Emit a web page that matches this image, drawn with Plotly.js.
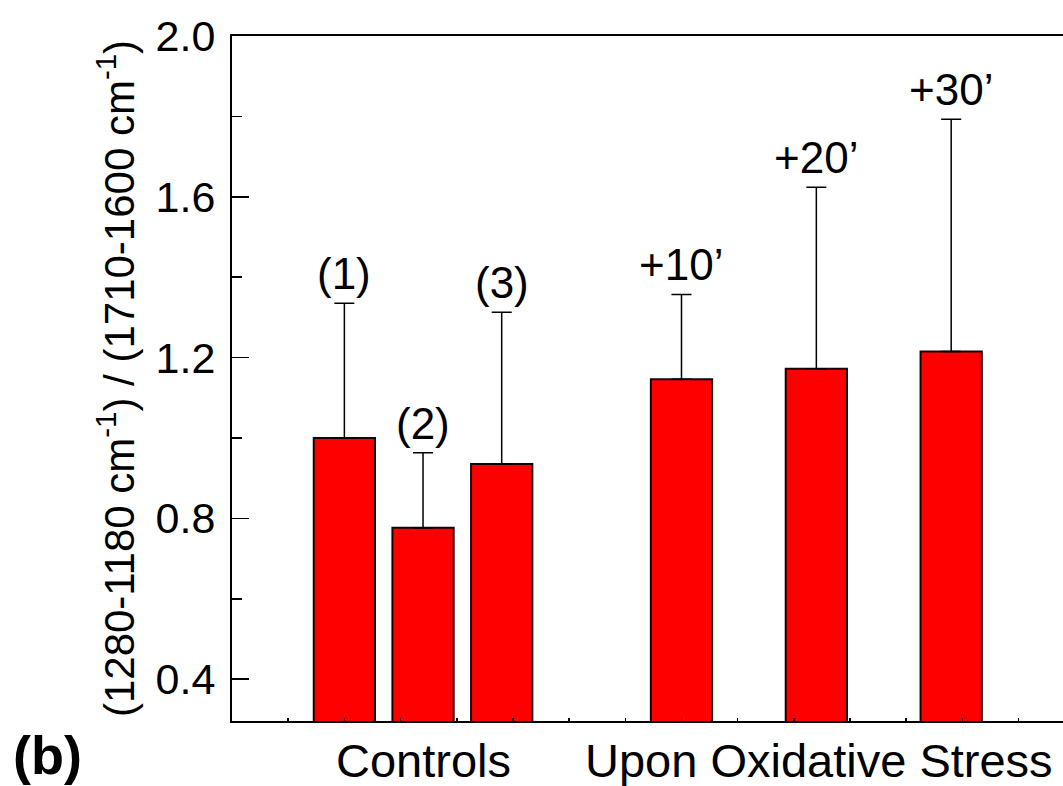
<!DOCTYPE html>
<html>
<head>
<meta charset="utf-8">
<script src="https://cdn.plot.ly/plotly-3.0.1.min.js"></script>
<style>html,body{margin:0;padding:0;background:#fff;overflow:hidden;}</style>
</head>
<body>
<div id="chart" style="width:1063px;height:786px;"></div>
<script>
// ---- data ----
const barLabels = ['(1)', '(2)', '(3)', '+10\u2019', '+20\u2019', '+30\u2019'];
const barValues = [1.0, 0.777, 0.935, 1.146, 1.172, 1.215];
const errorTops = [1.335, 0.963, 1.313, 1.357, 1.624, 1.793];
const barX = [2.0, 3.4, 4.8, 8.0, 10.4, 12.8];
const groupLabels = ['Controls', 'Upon Oxidative Stress'];
const groupX = [3.4, 10.45];
const yTitle = '(1280-1180 cm<sup>-1</sup>) / (1710-1600 cm<sup>-1</sup>)';
const panelLabel = '<b>(b)</b>';

const FONT = 'Liberation Sans, Arial, sans-serif';
const errUp = errorTops.map((t, i) => +(t - barValues[i]).toFixed(4));

const trace = {
  type: 'bar',
  x: barX,
  y: barValues,
  width: 1.09,
  marker: {color: '#ff0000', line: {color: '#1a0000', width: 2}},
  error_y: {type: 'data', symmetric: false, array: errUp, arrayminus: barValues.map(() => 0),
            color: '#000', thickness: 1.5, width: 10},
  hoverinfo: 'skip'
};

const annotations = [];
barLabels.forEach((t, i) => {
  annotations.push({x: barX[i], y: errorTops[i], xref: 'x', yref: 'y', text: t, showarrow: false,
    xanchor: 'center', yanchor: 'bottom', yshift: 3, font: {family: FONT, size: 44, color: '#000'}});
});
groupLabels.forEach((t, i) => {
  annotations.push({x: groupX[i], y: -0.057, xref: 'x', yref: 'paper', text: t, showarrow: false,
    xanchor: 'center', yanchor: 'middle', font: {family: FONT, size: 47, color: '#000'}});
});
annotations.push({x: -0.2226, y: -0.05, xref: 'paper', yref: 'paper', text: panelLabel, showarrow: false,
  xanchor: 'center', yanchor: 'middle', font: {family: FONT, size: 54, color: '#000'}});

const layout = {
  width: 1063, height: 786,
  margin: {l: 232, r: 0, t: 36, b: 65},
  paper_bgcolor: '#fff', plot_bgcolor: '#fff',
  showlegend: false,
  font: {family: FONT, color: '#000'},
  xaxis: {
    range: [0, 14.79], tick0: 0, dtick: 1, showticklabels: false,
    ticks: 'inside', ticklen: 3, tickwidth: 1.5, tickcolor: '#000',
    showline: true, linecolor: '#000', linewidth: 2, mirror: true,
    showgrid: false, zeroline: false
  },
  yaxis: {
    range: [0.296, 2.0], tick0: 0.4, dtick: 0.4, tickformat: '.1f',
    ticks: 'inside', ticklen: 17, tickwidth: 1.5, tickcolor: '#000',
    minor: {dtick: 0.2, tick0: 0.2, ticks: 'inside', ticklen: 10, tickwidth: 1.5, tickcolor: '#000', showgrid: false},
    tickfont: {family: FONT, size: 43, color: '#000'},
    ticklabelstandoff: 6,
    showline: true, linecolor: '#000', linewidth: 2, mirror: false,
    showgrid: false, zeroline: false,
    title: {text: yTitle, font: {family: FONT, size: 42, color: '#000'}, standoff: 8}
  },
  annotations: annotations
};

Plotly.newPlot('chart', [trace], layout, {displayModeBar: false, staticPlot: true});
</script>
</body>
</html>
